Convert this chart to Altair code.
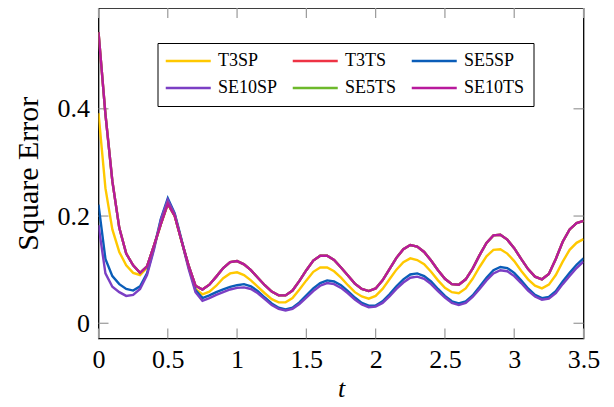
import altair as alt
import numpy as np
import pandas as pd

# sample grid (step 0.05 from 0 to 3.5)
T = np.round(np.arange(71) * 0.05, 2)

SERIES = ["T3SP", "T3TS", "SE5SP", "SE10SP", "SE5TS", "SE10TS"]
COLORS = ["#FFC800", "#EE3344", "#0A5DB8", "#7B3FC4", "#6DB92B", "#B8199C"]

SE10TS = [0.543, 0.390, 0.265, 0.178, 0.130, 0.108, 0.094, 0.106, 0.145, 0.185,
          0.223, 0.200, 0.153, 0.108, 0.070,
          0.063, 0.072, 0.087, 0.103, 0.114, 0.116, 0.110, 0.099, 0.085, 0.071,
          0.059, 0.052, 0.052, 0.061, 0.079, 0.099, 0.117, 0.126, 0.126, 0.118,
          0.104, 0.089, 0.074, 0.064, 0.060, 0.065, 0.080, 0.101, 0.122, 0.138,
          0.146, 0.143, 0.133, 0.117, 0.099, 0.083, 0.073, 0.072, 0.082, 0.102,
          0.127, 0.150, 0.164, 0.165, 0.156, 0.140, 0.120, 0.101, 0.087, 0.082,
          0.092, 0.120, 0.152, 0.175, 0.187, 0.191]
T3TS = list(SE10TS)
SE5TS = list(SE10TS)

T3SP = [0.392, 0.252, 0.175, 0.133, 0.108, 0.094, 0.090, 0.104, 0.143, 0.185,
        0.222, 0.200, 0.152, 0.106, 0.064,
        0.054, 0.059, 0.070, 0.084, 0.093, 0.095, 0.090, 0.080, 0.068, 0.056,
        0.045, 0.039, 0.039, 0.047, 0.063, 0.080, 0.096, 0.104, 0.104, 0.097,
        0.085, 0.071, 0.058, 0.050, 0.046, 0.051, 0.064, 0.082, 0.100, 0.114,
        0.121, 0.118, 0.110, 0.096, 0.080, 0.066, 0.058, 0.056, 0.065, 0.083,
        0.105, 0.125, 0.137, 0.138, 0.130, 0.116, 0.098, 0.082, 0.070, 0.065,
        0.072, 0.090, 0.115, 0.137, 0.150, 0.157]

SE5SP = [0.221, 0.120, 0.088, 0.073, 0.064, 0.061, 0.069, 0.093, 0.140, 0.195,
         0.233, 0.205, 0.155, 0.105, 0.062,
         0.047, 0.052, 0.058, 0.063, 0.068, 0.071, 0.073, 0.069, 0.060, 0.048,
         0.037, 0.029, 0.026, 0.029, 0.039, 0.052, 0.065, 0.075, 0.080, 0.078,
         0.071, 0.060, 0.048, 0.038, 0.033, 0.033, 0.041, 0.054, 0.069, 0.082,
         0.091, 0.093, 0.088, 0.078, 0.064, 0.051, 0.041, 0.037, 0.041, 0.052,
         0.068, 0.085, 0.099, 0.105, 0.103, 0.094, 0.080, 0.065, 0.053, 0.047,
         0.049, 0.060, 0.078, 0.094, 0.109, 0.121]

SE10SP = [0.183, 0.093, 0.068, 0.058, 0.051, 0.053, 0.064, 0.090, 0.137, 0.193,
          0.230, 0.203, 0.153, 0.102, 0.058,
          0.042, 0.047, 0.053, 0.058, 0.063, 0.066, 0.067, 0.064, 0.056, 0.045,
          0.034, 0.027, 0.024, 0.027, 0.036, 0.048, 0.060, 0.070, 0.075, 0.073,
          0.066, 0.056, 0.044, 0.035, 0.030, 0.031, 0.038, 0.050, 0.064, 0.076,
          0.085, 0.087, 0.083, 0.073, 0.060, 0.048, 0.038, 0.034, 0.038, 0.049,
          0.064, 0.080, 0.093, 0.099, 0.097, 0.088, 0.075, 0.061, 0.050, 0.044,
          0.046, 0.056, 0.073, 0.088, 0.103, 0.115]

XTICKS = [0, 0.5, 1, 1.5, 2, 2.5, 3, 3.5]
YTICKS = [0, 0.2, 0.4]

VALUES = {"T3SP": T3SP, "T3TS": T3TS, "SE5SP": SE5SP,
          "SE10SP": SE10SP, "SE5TS": SE5TS, "SE10TS": SE10TS}

rows = []
for name in SERIES:
    for t, v in zip(T, VALUES[name]):
        rows.append({"t": float(t), "v": v, "series": name})
df = pd.DataFrame(rows)

W, H = 485, 330.5
FONT = "Liberation Serif"

xscale = alt.Scale(domain=[0, 3.5], nice=False, zero=False)
yscale = alt.Scale(domain=[-0.0284, 0.588], nice=False, zero=False)

xaxis = alt.Axis(values=XTICKS, format="~g", title="t",
                 titleFontStyle="italic", titleFontWeight="normal",
                 titleFont=FONT, titleFontSize=26, titleColor="black",
                 labelFont=FONT, labelFontSize=26, labelColor="black",
                 labelFontWeight="normal", labelFontStyle="normal",
                 labelFlush=False, labelOverlap=False,
                 ticks=False, domain=False, grid=False,
                 labelPadding=8, titlePadding=3)
yaxis = alt.Axis(values=YTICKS, format="~g", title="Square Error",
                 titleFont=FONT, titleFontSize=30, titleFontWeight="normal",
                 titleColor="black",
                 labelFont=FONT, labelFontSize=26, labelColor="black",
                 labelFontWeight="normal", labelFontStyle="normal",
                 labelFlush=False, labelOverlap=False,
                 ticks=False, domain=False, grid=False,
                 labelPadding=9, titlePadding=14)

color = alt.Color(
    "series:N",
    scale=alt.Scale(domain=SERIES, range=COLORS),
    legend=alt.Legend(
        title=None, orient="none", legendX=59, legendY=35, columns=3,
        direction="horizontal", gridAlign="each",
        symbolType="M-3,0L3,0", symbolSize=225, symbolStrokeWidth=2.5,
        symbolOffset=12.75,
        labelFont=FONT, labelFontSize=18, labelColor="black",
        labelFontWeight="normal", labelFontStyle="normal",
        labelOffset=20.75, columnPadding=10, rowPadding=9,
        strokeColor="black", fillColor="white", padding=9, cornerRadius=0,
    ),
)

layers = []
for s in SERIES:
    layers.append(
        alt.Chart(df).transform_filter(alt.datum.series == s)
        .mark_line(strokeWidth=2.4, clip=True)
        .encode(
            x=alt.X("t:Q", scale=xscale, axis=xaxis),
            y=alt.Y("v:Q", scale=yscale, axis=yaxis),
            color=color,
        )
    )

tick_x = pd.DataFrame({"t": XTICKS})
tick_y = pd.DataFrame({"v": YTICKS})
TC = "#999999"
ticks = [
    alt.Chart(tick_x).mark_rule(color=TC, strokeWidth=1.2).encode(
        x=alt.X("t:Q", scale=xscale, axis=xaxis), y=alt.value(H), y2=alt.value(H - 10)),
    alt.Chart(tick_x).mark_rule(color=TC, strokeWidth=1.2).encode(
        x=alt.X("t:Q", scale=xscale, axis=xaxis), y=alt.value(0), y2=alt.value(10)),
    alt.Chart(tick_y).mark_rule(color=TC, strokeWidth=1.2).encode(
        y=alt.Y("v:Q", scale=yscale, axis=yaxis), x=alt.value(0), x2=alt.value(10)),
    alt.Chart(tick_y).mark_rule(color=TC, strokeWidth=1.2).encode(
        y=alt.Y("v:Q", scale=yscale, axis=yaxis), x=alt.value(W - 10), x2=alt.value(W)),
]

chart = (
    alt.layer(*ticks, *layers)
    .properties(
        width=W, height=H,
        background="white",
        autosize=alt.AutoSizeParams(type="none"),
        padding={"left": 90.5, "top": 0, "right": 22, "bottom": 68},
    )
    .configure(font=FONT)
    .configure_view(stroke="black", strokeWidth=1.3)
)

chart.save("out.html", embed_options={"renderer": "svg", "actions": False})
